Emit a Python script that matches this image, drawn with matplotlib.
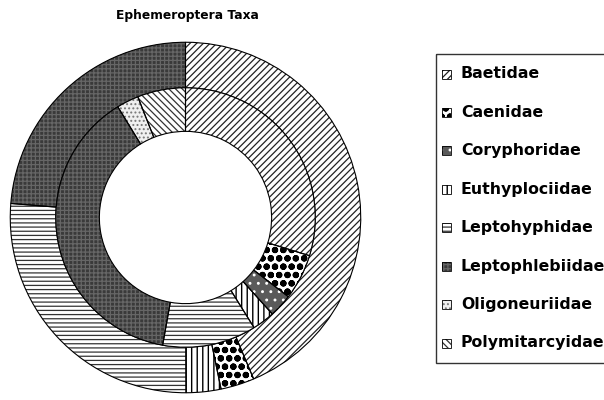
import matplotlib
matplotlib.use("Agg")
import matplotlib.pyplot as plt
from matplotlib.patches import Rectangle

plt.rcParams['font.family'] = ['DejaVu Sans']
plt.rcParams['hatch.linewidth'] = 0.9

title = "Ephemeroptera Taxa"
categories = ["Baetidae", "Caenidae", "Coryphoridae", "Euthyplociidae",
              "Leptohyphidae", "Leptophlebiidae", "Oligoneuriidae", "Polymitarcyidae"]
# percent shares
outer_values = [43.6, 3.1, 0.0, 3.2, 26.3, 23.7, 0.0, 0.0]
inner_values = [29.8, 5.7, 2.9, 2.8, 11.7, 38.5, 2.75, 6.0]

# style per category: facecolor, hatch, hatch colour, hatch linewidth
styles = {
    "Baetidae":        ("white",   "/////", "#222222", 0.9),
    "Caenidae":        ("white",   "oo",    "black", 2.2),
    "Coryphoridae":    ("#5a5a5a", "..",    "white", 0.9),
    "Euthyplociidae":  ("white",   "|||",   "black", 1.0),
    "Leptohyphidae":   ("white",   "----",  "#333333", 0.9),
    "Leptophlebiidae": ("#3a3a3a", "++++",  "#666666", 0.9),
    "Oligoneuriidae":  ("#f0f0f0", "....",  "#777777", 0.9),
    "Polymitarcyidae": ("white",   "\\\\\\\\\\", "#333333", 0.9),
}

W, H = 604, 400
fig = plt.figure(figsize=(W / 100, H / 100), dpi=100)

cx, cy, R = 185.5, 217.5, 177.0
ax = fig.add_axes([(cx - R) / W, (H - cy - R) / H, 2 * R / W, 2 * R / H])
ax.set_aspect('equal')
ax.axis('off')

r_outer = 1.0
r_mid = 131.0 / R
r_in = 87.0 / R


def style_patch(p, c):
    fc, hatch, hc, hlw = styles[c]
    p.set_facecolor(fc)
    p.set_hatch(hatch)
    p.set_edgecolor(hc)
    p.set_linewidth(0)
    if hasattr(p, "set_hatch_linewidth"):
        p.set_hatch_linewidth(hlw)


def ring(values, radius, width):
    cats = [c for c, v in zip(categories, values) if v > 0]
    vals = [v for v in values if v > 0]
    wedges, _ = ax.pie(vals, radius=radius, startangle=90, counterclock=False,
                       wedgeprops=dict(width=width, linewidth=0))
    for w, c in zip(wedges, cats):
        style_patch(w, c)
    ax.pie(vals, radius=radius, startangle=90, counterclock=False,
           wedgeprops=dict(width=width, facecolor='none',
                           edgecolor='black', linewidth=0.8))


ring(outer_values, r_outer, r_outer - r_mid)
ring(inner_values, r_mid, r_mid - r_in)
ax.set_xlim(-1.01, 1.01)
ax.set_ylim(-1.01, 1.01)

# overlay for title and legend (pixel coordinates)
ov = fig.add_axes([0, 0, 1, 1])
ov.set_xlim(0, W)
ov.set_ylim(H, 0)
ov.axis('off')
ov.patch.set_alpha(0)

ov.text(187, 15, title, ha='center', va='center', fontsize=8.8, fontweight='bold')

ov.add_patch(Rectangle((436, 54), 200, 309, facecolor='none',
                       edgecolor='#333333', linewidth=1.0, clip_on=False))
y0, dy = 74, (343 - 74) / 7
for i, c in enumerate(categories):
    y = y0 + i * dy
    sw = Rectangle((442, y - 4.5), 9, 9)
    style_patch(sw, c)
    ov.add_patch(sw)
    ov.add_patch(Rectangle((442, y - 4.5), 9, 9, facecolor='none',
                           edgecolor='black', linewidth=0.6))
    ov.text(461, y, c, ha='left', va='center', fontsize=11.3,
            fontweight='bold', color='black')

fig.savefig("out.png", dpi=100)
